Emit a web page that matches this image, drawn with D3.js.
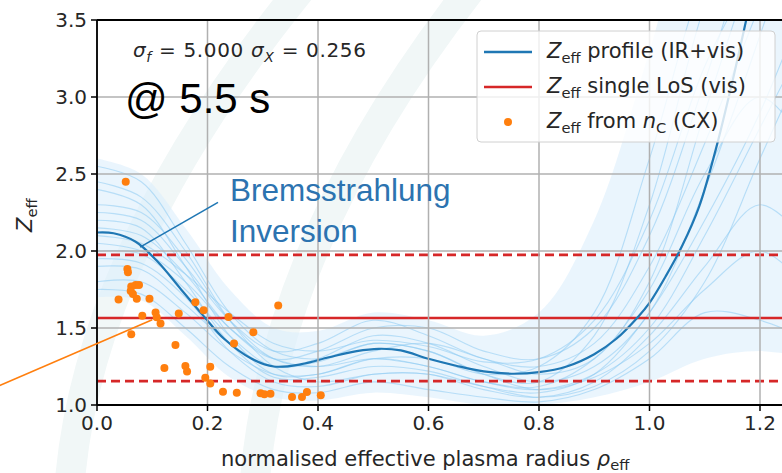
<!DOCTYPE html>
<html>
<head>
<meta charset="utf-8">
<script src="https://cdnjs.cloudflare.com/ajax/libs/d3/7.8.5/d3.min.js"></script>
<style>
  body { margin: 0; background: #fff; }
  text { font-family: "DejaVu Sans", sans-serif; fill: #262626; }
</style>
</head>
<body>
<script>
"use strict";

// ---- data ----
var profileX = [0, 0.03, 0.07, 0.11, 0.15, 0.19, 0.23, 0.28, 0.32, 0.37, 0.42, 0.47, 0.51, 0.55, 0.6,
                0.65, 0.7, 0.75, 0.8, 0.85, 0.9, 0.94, 0.98, 1.0, 1.03, 1.06, 1.09, 1.12, 1.15, 1.18, 1.2];
var profileZ = [2.12, 2.115, 2.06, 1.93, 1.76, 1.59, 1.43, 1.30, 1.25, 1.265, 1.31, 1.35, 1.365, 1.355, 1.30,
                1.255, 1.218, 1.203, 1.213, 1.25, 1.33, 1.43, 1.575, 1.663, 1.84, 2.04, 2.29, 2.66, 3.1, 3.58, 3.9];

// posterior samples (a handful, traced by eye) on a coarse grid
var sampleX = [0, 0.08, 0.16, 0.24, 0.32, 0.4, 0.5, 0.6, 0.7, 0.8, 0.9, 1.0, 1.1, 1.2, 1.3];
var samples = [
  [2.55, 2.45, 2.05, 1.60, 1.35, 1.30, 1.40, 1.35, 1.20, 1.15, 1.45, 2.30, 3.60, 4.5, 5.0],
  [2.30, 2.25, 1.95, 1.55, 1.30, 1.25, 1.35, 1.40, 1.30, 1.20, 1.30, 1.80, 2.90, 4.0, 5.0],
  [2.00, 1.98, 1.75, 1.45, 1.25, 1.30, 1.45, 1.40, 1.25, 1.15, 1.25, 1.60, 2.40, 3.4, 4.5],
  [1.80, 1.80, 1.60, 1.35, 1.20, 1.20, 1.30, 1.25, 1.15, 1.10, 1.20, 1.50, 2.10, 2.8, 3.5],
  [2.15, 2.10, 1.85, 1.50, 1.30, 1.35, 1.50, 1.50, 1.35, 1.30, 1.50, 2.10, 3.10, 4.2, 5.0],
  [1.95, 1.92, 1.70, 1.35, 1.15, 1.12, 1.20, 1.20, 1.10, 1.05, 1.15, 1.45, 1.90, 2.3, 2.0],
  [2.40, 2.30, 1.90, 1.45, 1.20, 1.20, 1.30, 1.30, 1.20, 1.25, 1.60, 2.60, 3.80, 4.5, 5.0],
  [1.75, 1.72, 1.50, 1.25, 1.10, 1.08, 1.15, 1.10, 1.05, 1.02, 1.10, 1.30, 1.60, 1.55, 1.4],
  [2.25, 2.20, 1.90, 1.55, 1.35, 1.40, 1.55, 1.45, 1.30, 1.25, 1.40, 1.90, 2.70, 3.6, 4.5],
  [2.05, 2.00, 1.80, 1.50, 1.30, 1.25, 1.30, 1.25, 1.15, 1.12, 1.30, 1.75, 2.50, 3.0, 2.6],
  [2.45, 2.35, 2.00, 1.55, 1.25, 1.15, 1.20, 1.20, 1.12, 1.08, 1.20, 1.60, 2.20, 2.9, 3.8],
  [1.90, 1.88, 1.65, 1.40, 1.25, 1.28, 1.40, 1.35, 1.20, 1.10, 1.18, 1.40, 1.75, 2.0, 1.7],
  [2.20, 2.15, 1.80, 1.40, 1.18, 1.18, 1.25, 1.22, 1.12, 1.05, 1.12, 1.35, 1.80, 2.6, 3.4],
  [2.10, 2.05, 1.85, 1.60, 1.40, 1.35, 1.42, 1.38, 1.28, 1.30, 1.55, 2.20, 3.20, 3.9, 4.6]
];
var envHigh = [2.60, 2.50, 2.15, 1.75, 1.50, 1.48, 1.60, 1.55, 1.45, 1.60, 2.20, 3.30, 4.5, 5.0, 5.0];
var envLow  = [1.70, 1.68, 1.45, 1.18, 1.05, 1.03, 1.08, 1.05, 1.00, 1.00, 1.05, 1.15, 1.3, 1.35, 1.3];

// single line of sight value and its band
var losMean = 1.565, losLow = 1.155, losHigh = 1.975;

// Z_eff from carbon density (CX)
var cxRho = [0.052, 0.055, 0.056, 0.039, 0.062, 0.070, 0.076, 0.061, 0.065, 0.072, 0.095, 0.082, 0.062,
             0.106, 0.108, 0.115, 0.148, 0.178, 0.193, 0.238, 0.248, 0.283, 0.328, 0.142, 0.122, 0.160,
             0.163, 0.205, 0.196, 0.205, 0.228, 0.253, 0.296, 0.303, 0.314, 0.353, 0.371, 0.380, 0.405];
var cxZeff = [2.45, 1.883, 1.862, 1.685, 1.77, 1.78, 1.78, 1.74, 1.72, 1.69, 1.69, 1.58, 1.46,
              1.60, 1.57, 1.53, 1.594, 1.667, 1.615, 1.572, 1.40, 1.473, 1.646, 1.39, 1.24, 1.253,
              1.218, 1.248, 1.177, 1.14, 1.086, 1.08, 1.076, 1.069, 1.073, 1.052, 1.052, 1.084, 1.063];

var xTicks = [0, 0.2, 0.4, 0.6, 0.8, 1.0, 1.2];
var yTicks = [1.0, 1.5, 2.0, 2.5, 3.0, 3.5];

// ---- layout ----
var W = 782, H = 473;
var plotLeft = 97, plotTop = 20, plotBottom = 405;

var x = d3.scaleLinear().domain([0, 1.3]).range([plotLeft, plotLeft + 1.3 * 552.5]);
var y = d3.scaleLinear().domain([1.0, 3.5]).range([plotBottom, plotTop]);

var svg = d3.select("body").append("svg")
    .attr("width", W).attr("height", H);

// faint background watermark
var wm = svg.append("g").attr("fill", "none").attr("stroke", "#f1f7f7").attr("stroke-width", 30);
wm.append("path").attr("d", "M70,480 Q90,250 300,-10");
wm.append("path").attr("d", "M255,480 Q275,240 470,-10");

svg.append("defs").append("clipPath").attr("id", "plot")
  .append("rect").attr("x", plotLeft).attr("y", plotTop).attr("width", W - plotLeft).attr("height", plotBottom - plotTop);

var plot = svg.append("g").attr("clip-path", "url(#plot)");

// sample envelope + traces
var sampleLine = d3.line().x(function(d, i) { return x(sampleX[i]); }).y(function(d) { return y(d); })
    .curve(d3.curveCatmullRom.alpha(0.5));
var env = d3.area().x(function(d, i) { return x(sampleX[i]); })
    .y0(function(d, i) { return y(envLow[i]); }).y1(function(d) { return y(d); })
    .curve(d3.curveCatmullRom.alpha(0.5));

plot.append("path").datum(envHigh).attr("d", env)
    .attr("fill", "#dcefFC").attr("opacity", 0.6);
plot.selectAll(".sample").data(samples).enter().append("path")
    .attr("class", "sample")
    .attr("d", sampleLine)
    .attr("fill", "none").attr("stroke", "#8ccbf2").attr("stroke-width", 1.1)
    .attr("opacity", 0.55);

// grid
var grid = svg.append("g").attr("stroke", "#b0b0b0").attr("stroke-width", 1.5);
xTicks.forEach(function(t) {
  grid.append("line").attr("x1", x(t)).attr("x2", x(t)).attr("y1", plotTop).attr("y2", plotBottom);
});
yTicks.forEach(function(t) {
  grid.append("line").attr("x1", plotLeft).attr("x2", W).attr("y1", y(t)).attr("y2", y(t));
});

// single LoS lines
plot.append("line").attr("x1", plotLeft).attr("x2", W).attr("y1", y(losMean)).attr("y2", y(losMean))
    .attr("stroke", "#d62728").attr("stroke-width", 2.6);
[losLow, losHigh].forEach(function(v) {
  plot.append("line").attr("x1", plotLeft).attr("x2", W).attr("y1", y(v)).attr("y2", y(v))
      .attr("stroke", "#d62728").attr("stroke-width", 2.6).attr("stroke-dasharray", "9,5");
});

// main profile
var profLine = d3.line().x(function(d, i) { return x(profileX[i]); }).y(function(d) { return y(d); })
    .curve(d3.curveCatmullRom.alpha(0.5));
plot.append("path").datum(profileZ).attr("d", profLine)
    .attr("fill", "none").attr("stroke", "#1f77b4").attr("stroke-width", 2.2);

// CX points
svg.selectAll(".cx").data(cxRho).enter().append("circle")
    .attr("class", "cx")
    .attr("cx", function(d) { return x(d); })
    .attr("cy", function(d, i) { return y(cxZeff[i]); })
    .attr("r", 4)
    .attr("fill", "#ff7f0e");

// axes spines + ticks
var ax = svg.append("g").attr("stroke", "#000");
ax.append("line").attr("x1", plotLeft).attr("x2", plotLeft).attr("y1", plotTop).attr("y2", plotBottom).attr("stroke-width", 1.8);
ax.append("line").attr("x1", plotLeft).attr("x2", W).attr("y1", plotBottom).attr("y2", plotBottom).attr("stroke-width", 1.8);
ax.append("line").attr("x1", plotLeft).attr("x2", W).attr("y1", plotTop).attr("y2", plotTop).attr("stroke-width", 1.8);
xTicks.forEach(function(t) {
  ax.append("line").attr("x1", x(t)).attr("x2", x(t)).attr("y1", plotBottom).attr("y2", plotBottom + 6).attr("stroke-width", 1.5);
  svg.append("text").attr("x", x(t)).attr("y", plotBottom + 25).attr("text-anchor", "middle")
      .attr("font-size", 20).text(t.toFixed(1));
});
yTicks.forEach(function(t) {
  ax.append("line").attr("x1", plotLeft - 6).attr("x2", plotLeft).attr("y1", y(t)).attr("y2", y(t)).attr("stroke-width", 1.5);
  svg.append("text").attr("x", plotLeft - 10).attr("y", y(t) + 7).attr("text-anchor", "end")
      .attr("font-size", 20).text(t.toFixed(1));
});

// helper for "Z_eff"-style labels
function mathLabel(sel, parts) {
  parts.forEach(function(p) {
    var ts = sel.append("tspan").text(p.t);
    if (p.it) ts.attr("font-style", "italic");
    if (p.sub) ts.attr("font-size", "70%").attr("dy", p.dy || 5);
    if (p.back) ts.attr("dy", -(p.back));
  });
}

// axis labels
mathLabel(svg.append("text").attr("x", 221).attr("y", 466).attr("font-size", 21),
  [{t: "normalised effective plasma radius "}, {t: "\u03c1", it: true}, {t: "eff", sub: true, dy: 4}]);
mathLabel(svg.append("text").attr("transform", "translate(32,232) rotate(-90)").attr("font-size", 21),
  [{t: "Z", it: true}, {t: "eff", sub: true}]);

// header texts
mathLabel(svg.append("text").attr("x", 133).attr("y", 57).attr("font-size", 20)
    .attr("textLength", 233).attr("lengthAdjust", "spacing"),
  [{t: "\u03c3", it: true}, {t: "f", it: true, sub: true}, {t: " = 5.000 ", back: 5},
   {t: "\u03c3", it: true}, {t: "X", it: true, sub: true}, {t: " = 0.256", back: 5}]);
svg.append("text").attr("x", 125).attr("y", 113)
    .style("font-family", "'Liberation Sans', Arial, sans-serif").style("fill", "#000")
    .attr("font-size", 42).text("@ 5.5 s");

// annotations
svg.append("line").attr("x1", x(0.078)).attr("y1", y(2.025)).attr("x2", x(0.219)).attr("y2", y(2.316))
    .attr("stroke", "#1f77b4").attr("stroke-width", 1.6);
svg.append("line").attr("x1", x(-0.185)).attr("y1", y(1.113)).attr("x2", x(0.1)).attr("y2", y(1.553))
    .attr("stroke", "#ff7f0e").attr("stroke-width", 1.6);
var ann = svg.append("text").style("font-family", "'Liberation Sans', Arial, sans-serif")
    .style("fill", "#2c73b0").attr("font-size", 31.5);
ann.append("tspan").attr("x", 230).attr("y", 201).text("Bremsstrahlung");
ann.append("tspan").attr("x", 230).attr("y", 242).text("Inversion");

// legend
var lg = svg.append("g");
lg.append("rect").attr("x", 477).attr("y", 31).attr("width", 298).attr("height", 111).attr("rx", 4)
    .attr("fill", "#fff").attr("fill-opacity", 0.8).attr("stroke", "#d0d0d0");
var legendRows = [
  {kind: "line", color: "#1f77b4", label: " profile (IR+vis)"},
  {kind: "line", color: "#d62728", label: " single LoS (vis)"},
  {kind: "dot",  color: "#ff7f0e", label: " from "}
];
legendRows.forEach(function(r, i) {
  var cy = 52 + i * 35;
  if (r.kind === "line") {
    lg.append("line").attr("x1", 484).attr("x2", 532).attr("y1", cy).attr("y2", cy)
        .attr("stroke", r.color).attr("stroke-width", 2.4);
  } else {
    lg.append("circle").attr("cx", 508).attr("cy", cy).attr("r", 4).attr("fill", r.color);
  }
  var t = lg.append("text").attr("x", 547).attr("y", cy + 6).attr("font-size", 21);
  var parts = [{t: "Z", it: true}, {t: "eff", sub: true}, {t: r.label, back: 5}];
  if (r.kind === "dot") {
    parts.push({t: "n", it: true}, {t: "C", sub: true}, {t: " (CX)", back: 5});
  }
  mathLabel(t, parts);
});
</script>
</body>
</html>
